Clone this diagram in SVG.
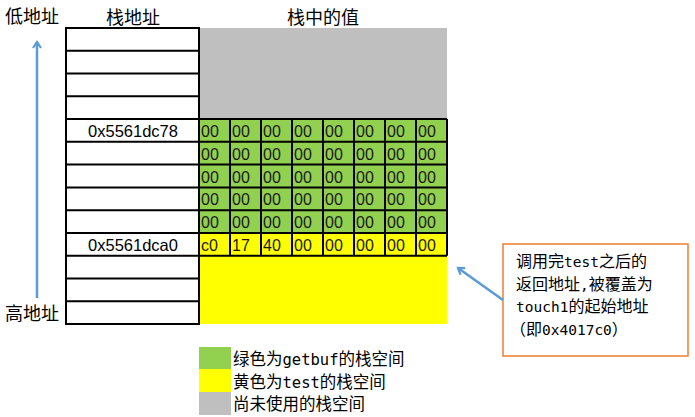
<svg xmlns="http://www.w3.org/2000/svg" width="695" height="417" viewBox="0 0 695 417">
<style>
.cjk{font-family:"Noto Sans CJK SC","Liberation Sans",sans-serif;fill:#000}
.m{font-family:"DejaVu Sans Mono","Liberation Mono",monospace}
.hdr{font-size:18px}
.addr{font-family:"Liberation Sans",Arial,sans-serif;font-size:16.5px;fill:#000;text-anchor:middle}
.val{font-family:"Liberation Sans",Arial,sans-serif;font-size:16px;fill:#1a1a1a}
.grid{stroke:#000;stroke-width:2;fill:none}
.blue{stroke:#5B9BD5;stroke-width:2.5;fill:none}
.lg{font-size:16.5px}
.lg .m{font-size:15.5px}
.co{font-size:16px}
.co .m{font-size:14.5px}
</style>
<defs>
<marker id="ah" markerWidth="10" markerHeight="10" refX="7" refY="5" orient="auto" markerUnits="userSpaceOnUse" viewBox="0 0 10 10">
<path d="M1,1 L7,5 L1,9" fill="none" stroke="#5B9BD5" stroke-width="2.2"/>
</marker>
</defs>
<rect width="695" height="417" fill="#fff"/>

<g id="headers">
<text class="cjk hdr" x="5" y="23">低地址</text>
<text class="cjk hdr" x="133" y="24" text-anchor="middle">栈地址</text>
<text class="cjk hdr" x="323" y="24" text-anchor="middle">栈中的值</text>
<text class="cjk hdr" x="5" y="320">高地址</text>
</g>

<g id="value-area">
<rect x="199" y="28" width="248" height="91" fill="#BFBFBF"/>
<rect x="199" y="119" width="248" height="114" fill="#92D050"/>
<rect x="199" y="233" width="248" height="91" fill="#FFFF00"/>
<g class="grid">
<path d="M199,119.1H447 M199,141.8H447 M199,164.6H447 M199,187.4H447 M199,210.2H447 M199,232.9H447 M199,255.7H447"/>
<path d="M230,119.1V255.7 M261,119.1V255.7 M292,119.1V255.7 M323,119.1V255.7 M354,119.1V255.7 M385,119.1V255.7 M416,119.1V255.7 M447,119.1V255.7"/>
</g>
<g class="val">
<text y="137"><tspan x="201">00</tspan><tspan x="232">00</tspan><tspan x="263">00</tspan><tspan x="294">00</tspan><tspan x="325">00</tspan><tspan x="356">00</tspan><tspan x="387">00</tspan><tspan x="418">00</tspan></text>
<text y="160"><tspan x="201">00</tspan><tspan x="232">00</tspan><tspan x="263">00</tspan><tspan x="294">00</tspan><tspan x="325">00</tspan><tspan x="356">00</tspan><tspan x="387">00</tspan><tspan x="418">00</tspan></text>
<text y="183"><tspan x="201">00</tspan><tspan x="232">00</tspan><tspan x="263">00</tspan><tspan x="294">00</tspan><tspan x="325">00</tspan><tspan x="356">00</tspan><tspan x="387">00</tspan><tspan x="418">00</tspan></text>
<text y="205"><tspan x="201">00</tspan><tspan x="232">00</tspan><tspan x="263">00</tspan><tspan x="294">00</tspan><tspan x="325">00</tspan><tspan x="356">00</tspan><tspan x="387">00</tspan><tspan x="418">00</tspan></text>
<text y="228"><tspan x="201">00</tspan><tspan x="232">00</tspan><tspan x="263">00</tspan><tspan x="294">00</tspan><tspan x="325">00</tspan><tspan x="356">00</tspan><tspan x="387">00</tspan><tspan x="418">00</tspan></text>
<text y="251"><tspan x="201">c0</tspan><tspan x="232">17</tspan><tspan x="263">40</tspan><tspan x="294">00</tspan><tspan x="325">00</tspan><tspan x="356">00</tspan><tspan x="387">00</tspan><tspan x="418">00</tspan></text>
</g>
</g>

<g id="address-column">
<g class="grid">
<rect x="66" y="28" width="133" height="296"/>
<path d="M66,50.8H199 M66,73.5H199 M66,96.3H199 M66,119.1H199 M66,141.8H199 M66,164.6H199 M66,187.4H199 M66,210.2H199 M66,232.9H199 M66,255.7H199 M66,278.5H199 M66,301.2H199"/>
</g>
<text class="addr" x="133" y="137">0x5561dc78</text>
<text class="addr" x="133" y="251">0x5561dca0</text>
</g>

<g id="callout">
<rect x="503" y="244" width="185" height="112" fill="#fff" stroke="#ED7D31" stroke-width="1.5"/>
<text class="cjk co" x="516" y="267">调用完<tspan class="m">test</tspan>之后的</text>
<text class="cjk co" x="516" y="290">返回地址<tspan class="m">,</tspan>被覆盖为</text>
<text class="cjk co" x="516" y="312"><tspan class="m">touch1</tspan>的起始地址</text>
<text class="cjk co" x="510" y="335">（即<tspan class="m">0x4017c0</tspan>）</text>
</g>

<g id="legend">
<rect x="199" y="347" width="32" height="22" fill="#92D050"/>
<rect x="199" y="369" width="32" height="23" fill="#FFFF00"/>
<rect x="199" y="392" width="32" height="23" fill="#BFBFBF"/>
<text class="cjk lg" x="233" y="365">绿色为<tspan class="m">getbuf</tspan>的栈空间</text>
<text class="cjk lg" x="233" y="388">黄色为<tspan class="m">test</tspan>的栈空间</text>
<text class="cjk lg" x="233" y="410">尚未使用的栈空间</text>
</g>

<g id="connectors">
<path class="blue" d="M37,298V42" marker-end="url(#ah)"/>
<path class="blue" d="M503,300L458,268" marker-end="url(#ah)"/>
</g>
</svg>
